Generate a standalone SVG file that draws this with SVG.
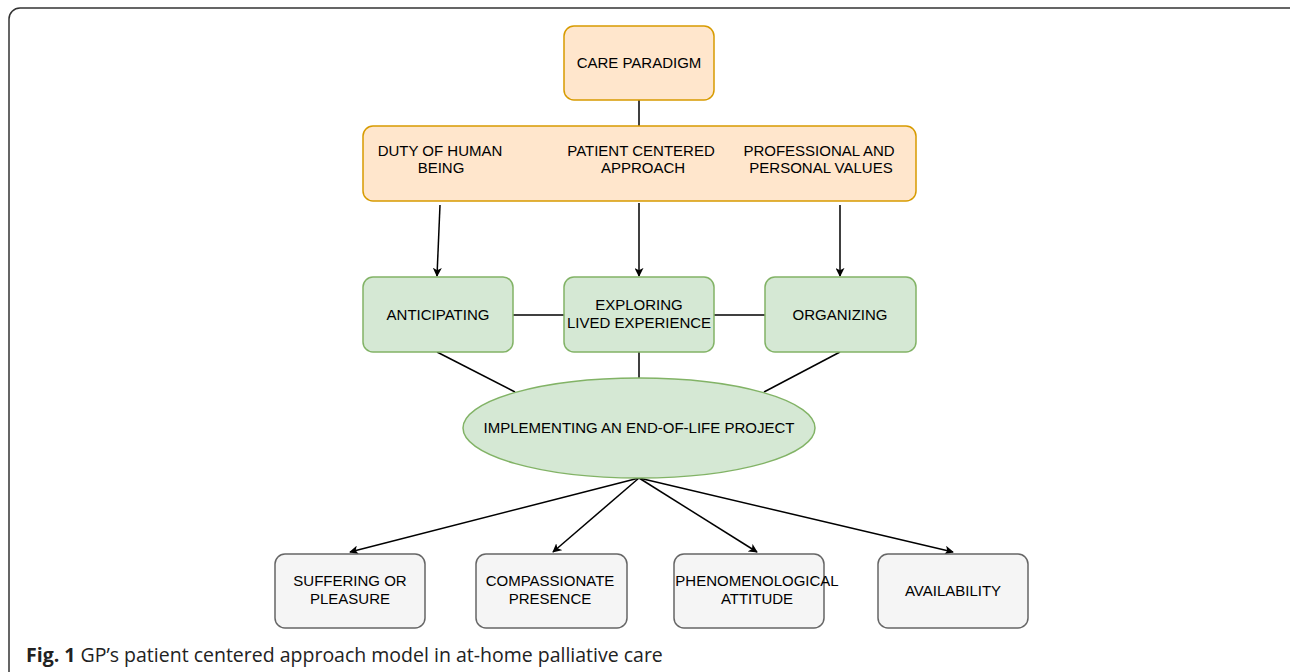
<svg xmlns="http://www.w3.org/2000/svg" width="1290" height="672" viewBox="0 0 1290 672">
<style>
.t{font-family:"Liberation Sans",Arial,sans-serif;font-size:15px;fill:#000;text-anchor:middle}
.or{fill:#ffe6cc;stroke:#d79b00;stroke-width:1.5}
.gr{fill:#d5e8d4;stroke:#82b366;stroke-width:1.5}
.gy{fill:#f5f5f5;stroke:#666;stroke-width:1.5}
.c{stroke:#000;stroke-width:1.5;fill:none}
.cap{font-family:"Open Sans","Liberation Sans",sans-serif;font-size:19.5px;fill:#222}
</style>
<defs>
<marker id="a" viewBox="0 0 10 10" refX="9" refY="5" markerWidth="9" markerHeight="9" markerUnits="userSpaceOnUse" orient="auto">
<path d="M0,0 L10,5 L0,10 L2.5,5 z" fill="#000"/>
</marker>
</defs>
<rect x="9" y="8" width="1300" height="690" rx="11" fill="#fff" stroke="#333" stroke-width="1.5"/>
<g id="connectors">
<line class="c" x1="639" y1="100" x2="639" y2="126"/>
<line class="c" x1="440" y1="205" x2="437" y2="276" marker-end="url(#a)"/>
<line class="c" x1="639" y1="203" x2="639" y2="276" marker-end="url(#a)"/>
<line class="c" x1="840" y1="205" x2="840" y2="276" marker-end="url(#a)"/>
<line class="c" x1="513" y1="315" x2="564" y2="315"/>
<line class="c" x1="714" y1="315" x2="765" y2="315"/>
<line class="c" x1="437" y1="352" x2="515" y2="392"/>
<line class="c" x1="639" y1="352" x2="639" y2="378"/>
<line class="c" x1="840" y1="352" x2="764" y2="392"/>
<line class="c" x1="639" y1="478" x2="350" y2="552" marker-end="url(#a)"/>
<line class="c" x1="639" y1="478" x2="553" y2="552" marker-end="url(#a)"/>
<line class="c" x1="639" y1="478" x2="757" y2="552" marker-end="url(#a)"/>
<line class="c" x1="639" y1="478" x2="953" y2="552" marker-end="url(#a)"/>
</g>
<g id="care-paradigm">
<rect class="or" x="564" y="26" width="150" height="74" rx="10"/>
<text class="t" x="639" y="68">CARE PARADIGM</text>
</g>
<g id="values">
<rect class="or" x="363" y="126" width="553" height="75" rx="10"/>
<text class="t" x="440" y="156">DUTY OF HUMAN</text>
<text class="t" x="441" y="173">BEING</text>
<text class="t" x="641" y="156">PATIENT CENTERED</text>
<text class="t" x="643" y="173">APPROACH</text>
<text class="t" x="819" y="156">PROFESSIONAL AND</text>
<text class="t" x="821" y="173">PERSONAL VALUES</text>
</g>
<g id="anticipating">
<rect class="gr" x="363" y="277" width="150" height="75" rx="10"/>
<text class="t" x="438" y="320">ANTICIPATING</text>
</g>
<g id="exploring">
<rect class="gr" x="564" y="277" width="150" height="75" rx="10"/>
<text class="t" x="639" y="310">EXPLORING</text>
<text class="t" x="639" y="328">LIVED EXPERIENCE</text>
</g>
<g id="organizing">
<rect class="gr" x="765" y="277" width="151" height="75" rx="10"/>
<text class="t" x="840" y="320">ORGANIZING</text>
</g>
<g id="implementing">
<ellipse class="gr" cx="639" cy="428" rx="176" ry="50"/>
<text class="t" x="639" y="433">IMPLEMENTING AN END-OF-LIFE PROJECT</text>
</g>
<g id="suffering">
<rect class="gy" x="275" y="554" width="150" height="74" rx="10"/>
<text class="t" x="350" y="586">SUFFERING OR</text>
<text class="t" x="350" y="604">PLEASURE</text>
</g>
<g id="compassionate">
<rect class="gy" x="476" y="554" width="151" height="74" rx="10"/>
<text class="t" x="550" y="586">COMPASSIONATE</text>
<text class="t" x="550" y="604">PRESENCE</text>
</g>
<g id="phenomenological">
<rect class="gy" x="674" y="554" width="150" height="74" rx="10"/>
<text class="t" x="757" y="586">PHENOMENOLOGICAL</text>
<text class="t" x="757" y="604">ATTITUDE</text>
</g>
<g id="availability">
<rect class="gy" x="878" y="554" width="150" height="74" rx="10"/>
<text class="t" x="953" y="596">AVAILABILITY</text>
</g>
<text class="cap" x="26" y="662"><tspan font-weight="bold">Fig. 1</tspan> GP’s patient centered approach model in at-home palliative care</text>
</svg>
